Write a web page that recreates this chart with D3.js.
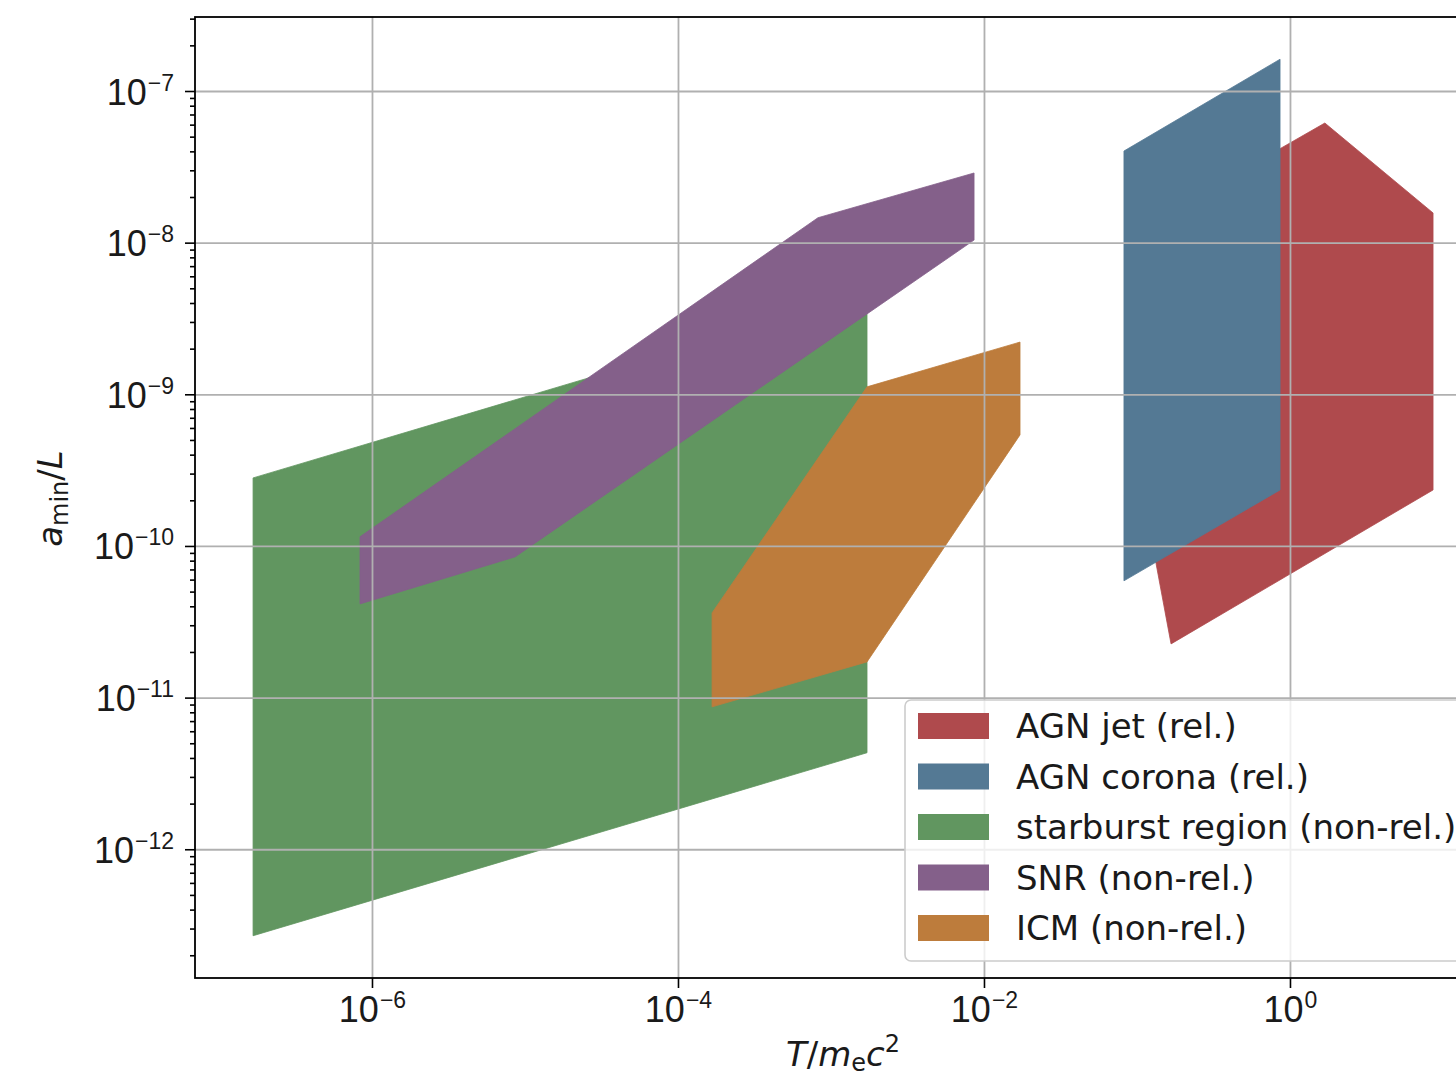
<!DOCTYPE html>
<html lang="en">
<head>
  <meta charset="UTF-8">
  <title>a_min/L versus T/m_e c^2</title>
  <style>
      body { margin: 0; background: #fff; }
      svg { display: block; overflow: hidden; font-family: "DejaVu Sans", sans-serif; }
      .grid line { stroke: #b0b0b0; stroke-width: 1.8px; }
      .grid path { stroke-width: 0; }
      .axis path { display: none; }
      .axis line { stroke: #000; stroke-width: 1.6px; }
      .axis text { font-size: 36px; fill: #1a1a1a; }
  </style>
</head>
<body>
<div id="chart"></div>
<script src="https://d3js.org/d3.v7.min.js"></script>
<script>
  // axis limits (log axes)
  const xLimits = [6.97e-8, 20.6];
  const yLimits = [1.416e-13, 3.076e-7];
  const xTickExps = [-6, -4, -2, 0];
  const yTickExps = [-12, -11, -10, -9, -8, -7];

  // legend / series names, in drawing order
  const seriesNames = ["AGN jet (rel.)", "AGN corona (rel.)", "starburst region (non-rel.)", "SNR (non-rel.)", "ICM (non-rel.)"];
  const seriesColors = ["#af4a4d", "#547994", "#619660", "#84608a", "#bd7c3c"];

  // polygon vertices: T/m_e c^2 and a_min/L
  const agnJetT = [1.69, 8.61, 8.61, 0.167, 0.133, 0.106, 0.656];
  const agnJetA = [6.15e-8, 1.57e-8, 2.34e-10, 2.26e-11, 7.74e-11, 2.73e-10, 3.56e-8];
  const agnCoronaT = [0.0822, 0.861, 0.861, 0.0822];
  const agnCoronaA = [4.02e-8, 1.62e-7, 2.34e-10, 5.89e-11];
  const starburstT = [1.67e-7, 1.72e-3, 1.72e-3, 1.67e-7];
  const starburstA = [2.81e-10, 4.52e-9, 4.33e-12, 2.69e-13];
  const snrT = [8.35e-7, 8.22e-4, 8.61e-3, 8.61e-3, 8.61e-6, 8.35e-7];
  const snrA = [1.15e-10, 1.46e-8, 2.88e-8, 1.04e-8, 8.47e-11, 4.15e-11];
  const icmT = [1.67e-4, 1.72e-3, 1.72e-2, 1.72e-2, 1.72e-3, 1.67e-4];
  const icmA = [3.62e-11, 1.12e-9, 2.21e-9, 5.40e-10, 1.72e-11, 8.69e-12];

  const polyT = [agnJetT, agnCoronaT, starburstT, snrT, icmT];
  const polyA = [agnJetA, agnCoronaA, starburstA, snrA, icmA];

  const margin = {top: 17, left: 195},
    width = 1296,
    height = 961;

  const svg = d3.select("#chart").append("svg")
    .attr("width", 1456)
    .attr("height", 1080)
    .append("g")
    .attr("transform", `translate(${margin.left},${margin.top})`);

  const x = d3.scaleLog().domain(xLimits).range([0, width]);
  const y = d3.scaleLog().domain(yLimits).range([height, 0]);

  // filled regions
  const line = d3.line()
    .x(d => x(d[0]))
    .y(d => y(d[1]))
    .curve(d3.curveLinearClosed);

  polyT.forEach((ts, k) => {
    const pts = ts.map((t, i) => [t, polyA[k][i]]);
    svg.append("path")
      .datum(pts)
      .attr("d", line)
      .attr("fill", seriesColors[k])
      .attr("stroke", seriesColors[k])
      .attr("stroke-width", 0.8);
  });

  const xTickVals = xTickExps.map(e => Math.pow(10, e));
  const yTickVals = yTickExps.map(e => Math.pow(10, e));

  // grid on top of patches, like matplotlib
  svg.append("g")
    .attr("class", "grid")
    .attr("transform", `translate(0,${height})`)
    .call(d3.axisBottom(x).tickValues(xTickVals).tickSize(-height).tickFormat(""));

  svg.append("g")
    .attr("class", "grid")
    .call(d3.axisLeft(y).tickValues(yTickVals).tickSize(-width).tickFormat(""));

  // minor ticks on y
  const yMinor = y.ticks().filter(v => Math.abs(Math.log10(v) - Math.round(Math.log10(v))) > 1e-6);
  svg.append("g")
    .attr("class", "axis")
    .call(d3.axisLeft(y).tickValues(yMinor).tickSize(5).tickFormat(""));

  function powLabel(sel, exps) {
    sel.selectAll(".tick text").each(function(d, i) {
      const t = d3.select(this).text(null);
      t.append("tspan").text("10");
      t.append("tspan")
        .attr("dy", -14)
        .attr("dx", 1)
        .style("font-size", "23px")
        .text(exps[i] < 0 ? "\u2212" + Math.abs(exps[i]) : String(exps[i]));
    });
  }

  const xAxis = svg.append("g")
    .attr("class", "axis")
    .attr("transform", `translate(0,${height})`)
    .call(d3.axisBottom(x).tickValues(xTickVals).tickSize(10).tickPadding(10));
  xAxis.selectAll(".tick text").attr("y", 44).attr("dy", null);
  powLabel(xAxis, xTickExps);

  const yAxis = svg.append("g")
    .attr("class", "axis")
    .call(d3.axisLeft(y).tickValues(yTickVals).tickSize(10).tickPadding(11));
  yAxis.selectAll(".tick text").attr("dy", null).attr("y", 13);
  powLabel(yAxis, yTickExps);

  // spines
  svg.append("rect")
    .attr("width", width)
    .attr("height", height)
    .attr("fill", "none")
    .attr("stroke", "#000")
    .attr("stroke-width", 1.8);

  // axis labels
  const xl = svg.append("text")
    .attr("x", width / 2)
    .attr("y", 1066 - margin.top)
    .attr("text-anchor", "middle")
    .style("font-size", "34px")
    .attr("fill", "#1a1a1a");
  xl.append("tspan").style("font-style", "italic").text("T");
  xl.append("tspan").text("/");
  xl.append("tspan").style("font-style", "italic").text("m");
  xl.append("tspan").attr("dy", 5).style("font-size", "24px").text("e");
  xl.append("tspan").attr("dy", -5).style("font-style", "italic").text("c");
  xl.append("tspan").attr("dy", -14).style("font-size", "24px").text("2");

  const yl = svg.append("text")
    .attr("transform", `translate(${62 - margin.left},${height / 2 + 1}) rotate(-90)`)
    .attr("text-anchor", "middle")
    .style("font-size", "34px")
    .attr("fill", "#1a1a1a");
  yl.append("tspan").style("font-style", "italic").text("a");
  yl.append("tspan").attr("dy", 6).style("font-size", "24px").text("min");
  yl.append("tspan").attr("dy", -6).text("/");
  yl.append("tspan").style("font-style", "italic").text("L");

  // legend (lower right, clipped by the figure edge)
  const legend = svg.append("g")
    .attr("transform", `translate(${905 - margin.left},${700 - margin.top})`);
  const legendBox = legend.append("rect")
    .attr("height", 261)
    .attr("rx", 6)
    .attr("fill", "#fff")
    .attr("fill-opacity", 0.8)
    .attr("stroke", "#cccccc")
    .attr("stroke-width", 1.6);

  let maxW = 0;
  seriesNames.forEach((name, i) => {
    const cy = 26 + i * 50.5;
    legend.append("rect")
      .attr("x", 13)
      .attr("y", cy - 13)
      .attr("width", 71)
      .attr("height", 26)
      .attr("fill", seriesColors[i]);
    const t = legend.append("text")
      .attr("x", 111)
      .attr("y", cy + 12)
      .style("font-size", "34px")
      .attr("fill", "#1a1a1a")
      .text(name);
    maxW = Math.max(maxW, t.node().getComputedTextLength());
  });
  legendBox.attr("width", 111 + maxW + 14);
</script>
</body>
</html>
